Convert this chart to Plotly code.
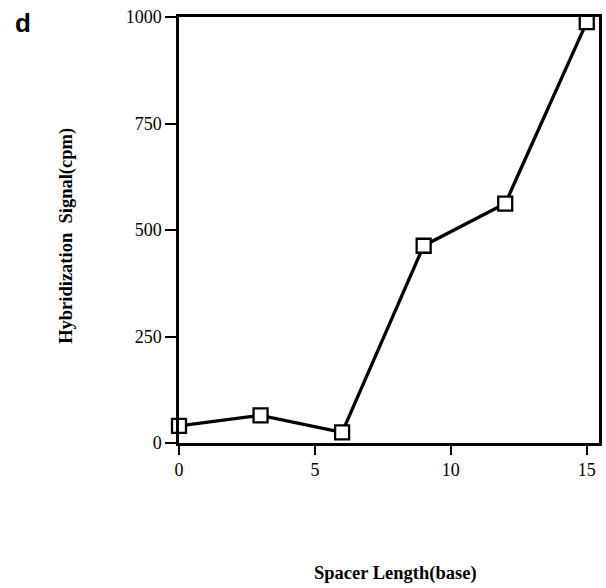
import plotly.graph_objects as go

spacer_length = [0, 3, 6, 9, 12, 15]
signal_cpm = [40, 65, 25, 463, 562, 988]
x_ticks = [0, 5, 10, 15]
y_ticks = [0, 250, 500, 750, 1000]

serif = "Liberation Serif, Times New Roman, serif"

# plot area in pixels: left 179, right 602, top 17, bottom 443
L, R, T, B = 179, 602, 17, 443
W, H = R - L, B - T

def px(xp):
    return (xp - L) / W

def py(yp):
    return (B - yp) / H

fig = go.Figure()
fig.add_trace(go.Scatter(
    x=spacer_length, y=signal_cpm, mode="lines+markers",
    line=dict(color="black", width=3.3),
    marker=dict(symbol="square", size=14, color="white",
                line=dict(color="black", width=2.3)),
    cliponaxis=False, showlegend=False,
))

fig.update_layout(
    width=606, height=588,
    margin=dict(l=L, r=606 - R, t=T, b=588 - B),
    paper_bgcolor="white", plot_bgcolor="white",
    font=dict(family=serif, color="black", size=18),
    xaxis=dict(range=[0, 15.45], tickvals=x_ticks, ticks="outside",
               ticklen=9, tickwidth=2, tickcolor="black",
               showline=True, linewidth=2.5, linecolor="black", mirror=True,
               showgrid=False, zeroline=False,
               tickfont=dict(family=serif, size=18)),
    yaxis=dict(range=[0, 1000], tickvals=y_ticks, ticks="outside",
               ticklen=11, tickwidth=2, tickcolor="black",
               showline=True, linewidth=2.5, linecolor="black", mirror=True,
               showgrid=False, zeroline=False,
               tickfont=dict(family=serif, size=18)),
    annotations=[
        dict(text="<b>d</b>", xref="paper", yref="paper",
             x=px(22), y=py(23), xanchor="center", yanchor="middle",
             showarrow=False,
             font=dict(family="Liberation Sans, Arial, sans-serif", size=26)),
        dict(text="<b>Spacer Length(base)</b>", xref="paper", yref="paper",
             x=px(397), y=py(573), xanchor="center", yanchor="middle",
             showarrow=False, font=dict(family=serif, size=18.5)),
        dict(text="<b>Hybridization\u00a0 Signal(cpm)</b>", xref="paper", yref="paper",
             x=px(65), y=py(236), xanchor="center", yanchor="middle",
             showarrow=False, textangle=-90,
             font=dict(family=serif, size=18.5)),
    ],
)

fig.write_html("out.html")
